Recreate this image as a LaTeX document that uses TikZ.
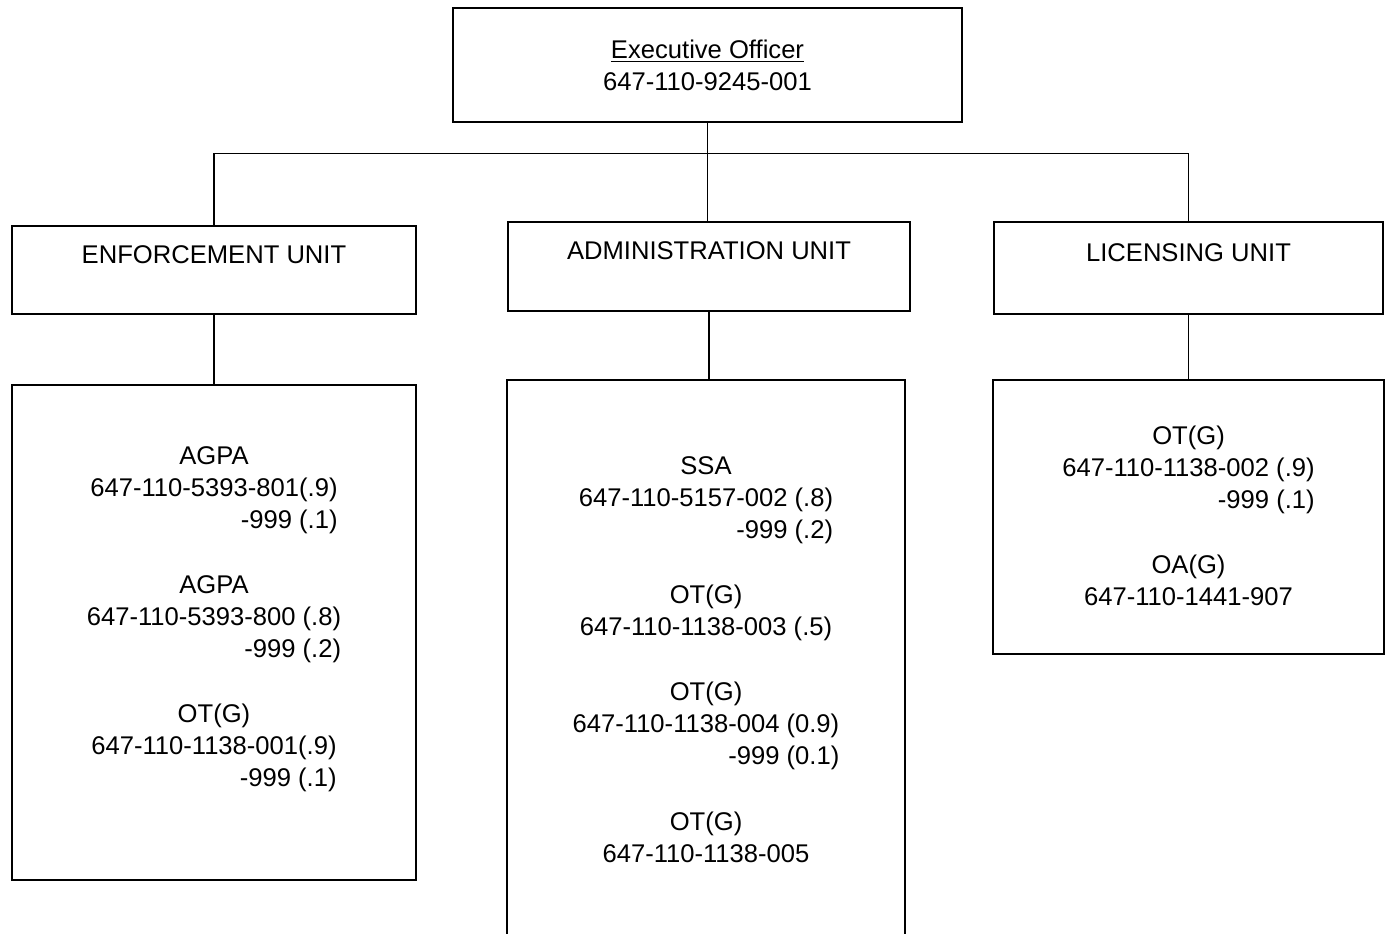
\documentclass[tikz,border=0pt]{standalone}
\usepackage{fontspec}
\setmainfont{Liberation Sans}
\usetikzlibrary{positioning}
\newcommand{\grp}[1]{\begin{tabular}{@{}c@{}}#1\end{tabular}}
\tikzset{
     box/.style = {draw, line width=0.7pt, rectangle, inner sep=0pt},   % plain frame
    unit/.style = {box, text height=9pt, text depth=16pt},           % text sits high
     grp/.style = {inner sep=0pt, anchor=north},
}
\begin{document}
\begin{tikzpicture}[x=0.5pt,y=-0.5pt,line width=0.7pt,
    every node/.append style={font=\fontsize{12.8}{16}\selectfont}]
\useasboundingbox (0,0) rectangle (1392,933);
\clip (0,0) rectangle (1392,933);
% top box
\node[box, align=center, minimum width=254.5pt, minimum height=57pt] (eo) at (707.5,65)
    {\underline{Executive Officer}\\647-110-9245-001};
% units
\node[unit, minimum width=202pt, minimum height=44pt] (enf) at (214,270) {ENFORCEMENT UNIT};
\node[unit, minimum width=201pt, minimum height=44.5pt] (adm) at (709,266.5) {ADMINISTRATION UNIT};
\node[unit, minimum width=194.5pt, minimum height=46pt] (lic) at (1188.5,268) {LICENSING UNIT};
% position boxes
\node[box, minimum width=202pt, minimum height=247.5pt] (enfd) at (214,632.5) {};
\node[box, minimum width=199pt, minimum height=310pt] (admd) at (706,690) {};
\node[box, minimum width=195.5pt, minimum height=137pt] (licd) at (1188.5,517) {};
% connectors
\path (eo.south) ++(0,31) coordinate (bus);
\draw (eo.south) -- (bus);
\draw (enf.north) |- (bus) -| (lic.north);
\draw (bus) -- (bus |- adm.north);
\draw (enf.south) -- (enfd.north);
\draw (adm.south) -- (adm.south |- admd.north);
\draw (lic.south) -- (licd.north);
% enforcement
\node[grp, below=28.3pt of enfd.north] (e1) {\grp{AGPA\\647-110-5393-801(.9)\\\hfill -999 (.1)}};
\node[grp, below=16pt of e1] (e2) {\grp{AGPA\\647-110-5393-800 (.8)\\\hfill -999 (.2)}};
\node[grp, below=16pt of e2] (e3) {\grp{OT(G)\\647-110-1138-001(.9)\\\hfill -999 (.1)}};
% administration
\node[grp, below=35.8pt of admd.north] (a1) {\grp{SSA\\647-110-5157-002 (.8)\\\hfill -999 (.2)}};
\node[grp, below=16pt of a1] (a2) {\grp{OT(G)\\647-110-1138-003 (.5)}};
\node[grp, below=16pt of a2] (a3) {\grp{OT(G)\\647-110-1138-004 (0.9)\\\hfill -999 (0.1)}};
\node[grp, below=16pt of a3] (a4) {\grp{OT(G)\\647-110-1138-005}};
% licensing
\node[grp, below=20.8pt of licd.north] (l1) {\grp{OT(G)\\647-110-1138-002 (.9)\\\hfill -999 (.1)}};
\node[grp, below=16pt of l1] (l2) {\grp{OA(G)\\647-110-1441-907}};
\end{tikzpicture}
\end{document}
